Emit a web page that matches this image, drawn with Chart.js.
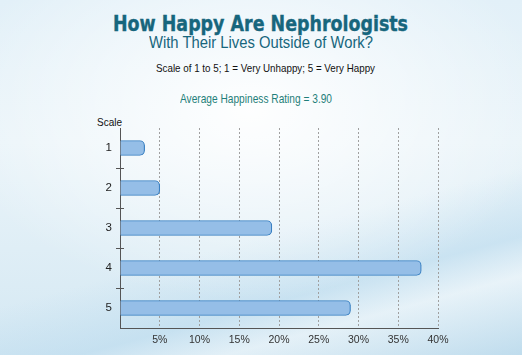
<!DOCTYPE html>
<html>
<head>
<meta charset="utf-8">
<script src="https://cdn.jsdelivr.net/npm/chart.js@4/dist/chart.umd.min.js"></script>
<style>
  html, body { margin:0; padding:0; }
  body { width:522px; height:355px; position:relative; overflow:hidden;
    background:
      radial-gradient(ellipse 300px 190px at 250px 110px, rgba(255,255,255,0.95), rgba(255,255,255,0) 100%),
      linear-gradient(165deg, rgba(255,255,255,0) 62%, rgba(185,218,238,0.55) 76%, rgba(255,255,255,0.35) 84%, rgba(180,214,234,0.65) 100%),
      linear-gradient(180deg, #e2f0f8 0%, #eaf4f9 40%, #d4e8f3 100%);
    font-family: "Liberation Sans", Arial, sans-serif; }
  .t { position:absolute; white-space:nowrap; transform-origin:0 0; }
  #title { font-family:"DejaVu Sans", sans-serif; font-weight:bold; font-size:21px; color:#17667d; -webkit-text-stroke:0.4px #17667d; }
  #sub { font-size:16px; color:#17667d; }
  #scaleNote { font-size:11px; color:#111; }
  #avg { font-size:13.5px; color:#1f7f7a; }
  #ylab { font-size:11px; color:#111; }
  canvas { position:absolute; left:0; top:0; }
</style>
</head>
<body>
<div class="t" id="title" data-x="113" data-w="295" data-top="12">How Happy Are Nephrologists</div>
<div class="t" id="sub" data-x="149" data-w="224" data-top="34">With Their Lives Outside of Work?</div>
<div class="t" id="scaleNote" data-x="156" data-w="219" data-top="62">Scale of 1 to 5; 1 = Very Unhappy; 5 = Very Happy</div>
<div class="t" id="avg" data-x="180" data-w="152" data-top="91">Average Happiness Rating = 3.90</div>
<div class="t" id="ylab" data-x="97" data-w="25" data-top="116">Scale</div>
<canvas id="c" width="522" height="355"></canvas>
<script>
const categories = ["1", "2", "3", "4", "5"];
const percentValues = [3.1, 5.0, 19.1, 37.9, 29.0];
const xTickValues = [5, 10, 15, 20, 25, 30, 35, 40];

document.querySelectorAll('.t').forEach(el => {
  const w = el.getBoundingClientRect().width;
  const target = parseFloat(el.dataset.w);
  el.style.left = el.dataset.x + 'px';
  el.style.top = el.dataset.top + 'px';
  el.style.transform = 'scaleX(' + (target / w) + ')';
});

const yTicksPlugin = {
  id: 'yTicksCross',
  afterDatasetsDraw(chart) {
    const y = chart.scales.y, x = chart.scales.x;
    const ctx = chart.ctx;
    ctx.save();
    ctx.strokeStyle = '#555';
    ctx.lineWidth = 1;
    for (let i = 0; i < categories.length - 1; i++) {
      const p = Math.round((y.getPixelForValue(i) + y.getPixelForValue(i + 1)) / 2) + 0.5;
      ctx.beginPath();
      ctx.moveTo(x.left - 4, p);
      ctx.lineTo(x.left + 4, p);
      ctx.stroke();
    }
    ctx.restore();
  }
};

const ctx = document.getElementById('c').getContext('2d');

new Chart(ctx, {
  type: 'bar',
  data: {
    labels: categories,
    datasets: [{
      data: percentValues,
      backgroundColor: '#95bee7',
      borderColor: '#3a80c2',
      borderWidth: 1.2,
      borderRadius: 5,
      borderSkipped: 'start',
      barThickness: 15
    }]
  },
  options: {
    indexAxis: 'y',
    responsive: false,
    animation: false,
    layout: { padding: { left: 0, right: 84, top: 128, bottom: 0 } },
    plugins: { legend: { display: false }, tooltip: { enabled: false }, title: { display: false } },
    scales: {
      x: {
        min: 0, max: 40,
        afterBuildTicks(s) { s.ticks = [0].concat(xTickValues).map(v => ({ value: v })); },
        afterFit(s) { s.height = 27; },
        grid: {
          color: (c) => c.tick && c.tick.value === 0 ? 'rgba(0,0,0,0)' : '#a0a0a0',
          lineWidth: 1,
          tickLength: 0,
          drawTicks: false
        },
        border: { display: true, color: '#555', width: 1, dash: [2, 2] },
        ticks: {
          callback: (v) => v === 0 ? '' : v + '%',
          color: '#333',
          font: { family: 'Liberation Sans', size: 10.5 },
          padding: 6,
          maxRotation: 0,
          autoSkip: false
        }
      },
      y: {
        afterFit(s) { s.width = 120; },
        grid: { display: false, drawTicks: false, tickLength: 0 },
        border: { display: true, color: '#555', width: 1 },
        ticks: {
          color: '#222',
          font: { family: 'Liberation Sans', size: 11.5 },
          padding: 8
        }
      }
    }
  },
  plugins: [yTicksPlugin]
});
</script>
</body>
</html>
